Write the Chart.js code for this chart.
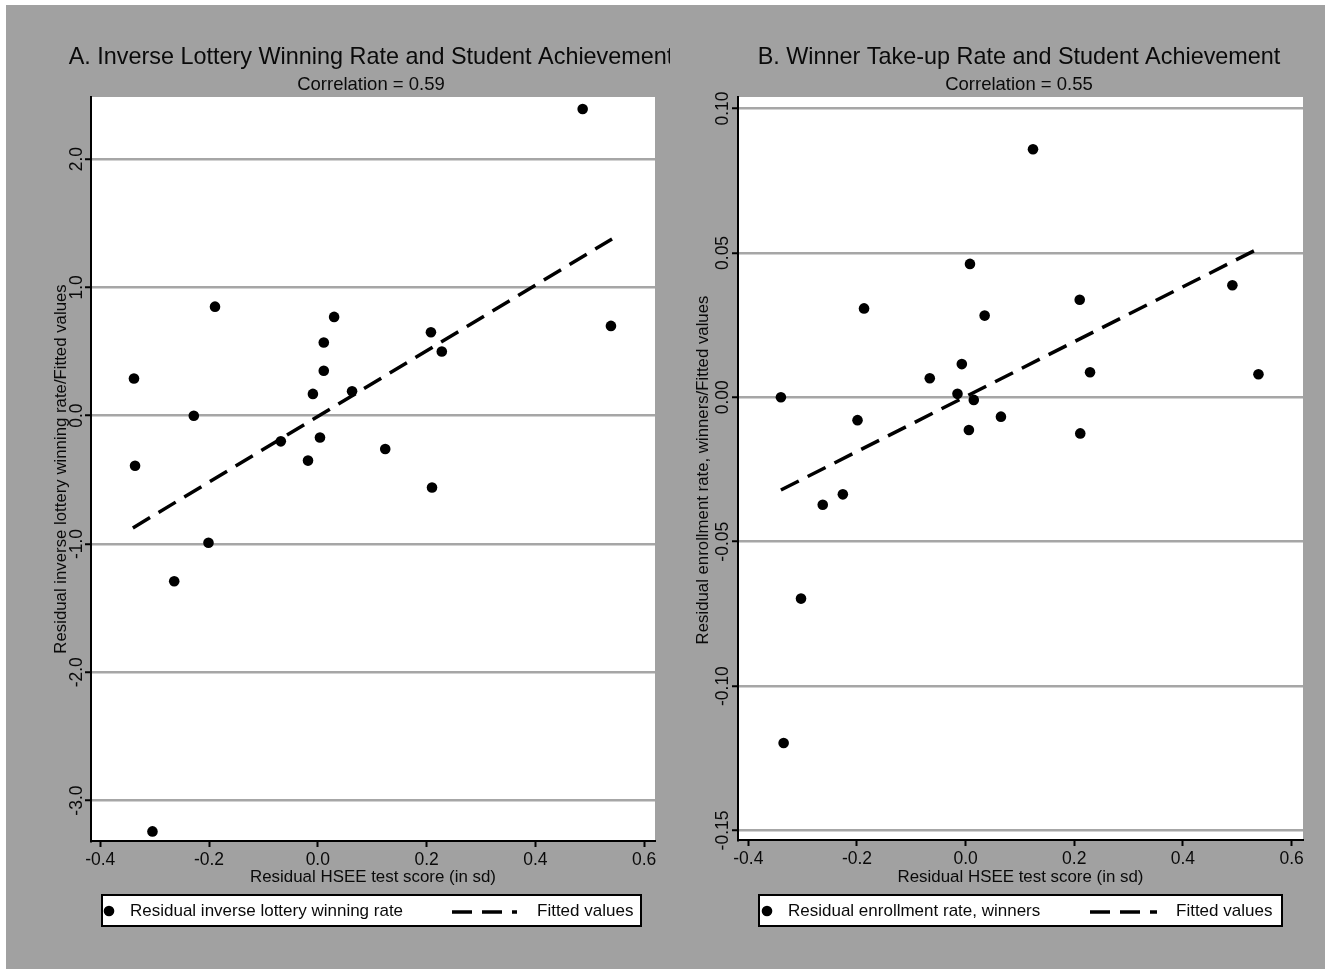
<!DOCTYPE html>
<html>
<head>
<meta charset="utf-8">
<title>Lottery rates and student achievement</title>
<script src="https://cdn.jsdelivr.net/npm/chart.js@4.4.1/dist/chart.umd.min.js"></script>
<style>
  html, body { margin: 0; padding: 0; background: #ffffff; overflow: hidden; }
  #frame { position: absolute; left: 6px; top: 5px; width: 1319px; height: 964px; background: #a1a1a1; }
  canvas { position: absolute; top: 0; }
  #panelA { left: 0; }
  #panelB { left: 670px; }
</style>
</head>
<body>
<div id="frame"></div>
<canvas id="panelA" width="670" height="969"></canvas>
<canvas id="panelB" width="655" height="969"></canvas>
<script>
// Panel A: residual HSEE score vs residual inverse lottery winning rate
const scoreA   = [0.487, 0.539, -0.189, -0.338, -0.336, -0.228, 0.030, 0.011, 0.011, -0.009, 0.063,
                  -0.068, 0.004, -0.018, 0.124, 0.208, 0.228, 0.210, -0.201, -0.264, -0.304];
const inverseA = [2.39, 0.70, 0.85, 0.29, -0.39, 0.00, 0.77, 0.57, 0.35, 0.17, 0.19,
                  -0.20, -0.17, -0.35, -0.26, 0.65, 0.50, -0.56, -0.99, -1.29, -3.24];
const fitScoreA = [-0.340, 0.541];
const fitValueA = [-0.875, 1.378];
const yTicksA = [-3, -2, -1, 0, 1, 2];

// Panel B: residual HSEE score vs residual enrollment rate of winners
const scoreB  = [0.124, 0.008, -0.187, 0.035, 0.210, 0.491, 0.539, 0.229, -0.007, -0.066, -0.015,
                 0.015, -0.340, -0.199, 0.065, 0.006, 0.211, -0.226, -0.263, -0.303, -0.335];
const enrollB = [0.0859, 0.0462, 0.0308, 0.0283, 0.0338, 0.0388, 0.0080, 0.0087, 0.0115, 0.0066, 0.0012,
                 -0.0009, 0.0000, -0.0079, -0.0067, -0.0113, -0.0125, -0.0336, -0.0372, -0.0697, -0.1197];
const fitScoreB = [-0.340, 0.540];
const fitValueB = [-0.0321, 0.0516];
const yTicksB = [-0.15, -0.10, -0.05, 0, 0.05, 0.10];

// Shared x axis ticks
const xTicks = [-0.4, -0.2, 0, 0.2, 0.4, 0.6];

const FONT = '"Liberation Sans", Arial, Helvetica, sans-serif';
const INK = '#0a0a0a';

const toPoints = (xs, ys) => xs.map((x, i) => ({ x: x, y: ys[i] }));

// White plotting region under the grid
const plotBackground = {
  id: 'plotBackground',
  beforeDraw(chart) {
    const { ctx, chartArea: a } = chart;
    ctx.save();
    ctx.fillStyle = '#ffffff';
    ctx.fillRect(a.left, a.top, a.right - a.left, a.bottom - a.top);
    ctx.restore();
  }
};

// Titles, rotated y tick labels, axis titles and the boxed legend
const panelText = {
  id: 'panelText',
  afterDraw(chart, args, o) {
    const ctx = chart.ctx;
    const a = chart.chartArea;
    const ys = chart.scales.y;
    ctx.save();
    ctx.fillStyle = INK;
    ctx.textAlign = 'center';
    ctx.textBaseline = 'middle';

    ctx.font = '23.4px ' + FONT;
    ctx.fillText(o.title, o.titleX, 58);
    ctx.font = '18.5px ' + FONT;
    ctx.fillText(o.subtitle, o.titleX, 85);

    ctx.font = '17.5px ' + FONT;
    ys.ticks.forEach(t => {
      const py = ys.getPixelForValue(t.value);
      ctx.save();
      ctx.translate(o.yTickX, py);
      ctx.rotate(-Math.PI / 2);
      ctx.fillText(Number(t.value).toFixed(o.yDecimals), 0, 0);
      ctx.restore();
    });

    ctx.save();
    ctx.translate(o.yTitleX, o.yTitleY);
    ctx.rotate(-Math.PI / 2);
    ctx.font = '16.8px ' + FONT;
    ctx.fillText(o.yTitle, 0, 0);
    ctx.restore();

    ctx.font = '16.9px ' + FONT;
    ctx.fillText(o.xTitle, (a.left + a.right) / 2, 877);

    // legend box
    const L = o.legend;
    const pts = chart.data.datasets[0];
    const fit = chart.data.datasets[1];
    ctx.fillStyle = '#ffffff';
    ctx.fillRect(L.left, 895, L.right - L.left, 31);
    ctx.lineWidth = 2;
    ctx.strokeStyle = '#000000';
    ctx.strokeRect(L.left, 895, L.right - L.left, 31);

    ctx.fillStyle = '#000000';
    ctx.beginPath();
    ctx.arc(L.dot, 911, pts.pointRadius, 0, Math.PI * 2);
    ctx.fill();

    ctx.strokeStyle = '#000000';
    ctx.lineWidth = fit.borderWidth;
    ctx.setLineDash(fit.borderDash);
    ctx.beginPath();
    ctx.moveTo(L.dashStart, 912);
    ctx.lineTo(L.dashEnd, 912);
    ctx.stroke();
    ctx.setLineDash([]);

    ctx.fillStyle = INK;
    ctx.textAlign = 'left';
    ctx.font = '17px ' + FONT;
    ctx.fillText(pts.label, L.text, 911);
    ctx.fillText(fit.label, L.fitText, 911);
    ctx.restore();
  }
};

function makePanel(id, cfg) {
  return new Chart(document.getElementById(id), {
    type: 'scatter',
    data: {
      datasets: [
        {
          label: cfg.pointLabel,
          data: toPoints(cfg.xs, cfg.ys),
          pointRadius: 5.3,
          pointHoverRadius: 5.3,
          pointBackgroundColor: '#000000',
          pointBorderWidth: 0,
          order: 0
        },
        {
          label: 'Fitted values',
          data: toPoints(cfg.fitX, cfg.fitY),
          showLine: true,
          borderColor: '#000000',
          borderWidth: 3.5,
          borderDash: [20, 10],
          pointRadius: 0,
          pointHoverRadius: 0,
          fill: false,
          order: 1
        }
      ]
    },
    options: {
      responsive: false,
      animation: false,
      events: [],
      layout: { padding: cfg.padding },
      plugins: {
        legend: { display: false },
        tooltip: { enabled: false },
        panelText: cfg.text
      },
      scales: {
        x: {
          type: 'linear',
          min: cfg.xMin,
          max: cfg.xMax,
          afterBuildTicks: s => { s.ticks = xTicks.map(v => ({ value: v })); },
          afterFit: s => { s.height = 40; },
          grid: { drawOnChartArea: false, drawTicks: true, tickLength: 6, tickWidth: 2, tickColor: '#000000' },
          border: { display: true, color: '#000000', width: 2 },
          ticks: {
            padding: 3, color: INK, autoSkip: false, maxRotation: 0,
            font: { family: FONT, size: 17.5 },
            callback: v => Number(v).toFixed(1)
          }
        },
        y: {
          type: 'linear',
          min: cfg.yMin,
          max: cfg.yMax,
          afterBuildTicks: s => { s.ticks = cfg.yTicks.map(v => ({ value: v })); },
          afterFit: s => { s.width = 20; },
          grid: { color: '#a6a6a6', lineWidth: 2.5, drawTicks: true, tickLength: 6, tickWidth: 2, tickColor: '#000000' },
          border: { display: true, color: '#000000', width: 2 },
          ticks: { display: false }
        }
      }
    },
    plugins: [plotBackground, panelText]
  });
}

makePanel('panelA', {
  pointLabel: 'Residual inverse lottery winning rate',
  xs: scoreA, ys: inverseA, fitX: fitScoreA, fitY: fitValueA,
  xMin: -0.417, xMax: 0.620, yMin: -3.315, yMax: 2.484,
  yTicks: yTicksA,
  padding: { left: 71, right: 15, top: 97, bottom: 88 },
  text: {
    title: 'A. Inverse Lottery Winning Rate and Student Achievement',
    subtitle: 'Correlation = 0.59',
    titleX: 371,
    yTitle: 'Residual inverse lottery winning rate/Fitted values',
    yTitleX: 61.5, yTitleY: 469,
    yTickX: 77, yDecimals: 1,
    xTitle: 'Residual HSEE test score (in sd)',
    legend: { left: 102, right: 641, dot: 109, text: 130, dashStart: 452, dashEnd: 517, fitText: 537 }
  }
});

makePanel('panelB', {
  pointLabel: 'Residual enrollment rate, winners',
  xs: scoreB, ys: enrollB, fitX: fitScoreB, fitY: fitValueB,
  xMin: -0.419, xMax: 0.621, yMin: -0.1533, yMax: 0.104,
  yTicks: yTicksB,
  padding: { left: 48, right: 22, top: 97, bottom: 89 },
  text: {
    title: 'B. Winner Take-up Rate and Student Achievement',
    subtitle: 'Correlation = 0.55',
    titleX: 349,
    yTitle: 'Residual enrollment rate, winners/Fitted values',
    yTitleX: 33, yTitleY: 470,
    yTickX: 53, yDecimals: 2,
    xTitle: 'Residual HSEE test score (in sd)',
    legend: { left: 89, right: 612, dot: 97, text: 118, dashStart: 420, dashEnd: 487, fitText: 506 }
  }
});
</script>
</body>
</html>
